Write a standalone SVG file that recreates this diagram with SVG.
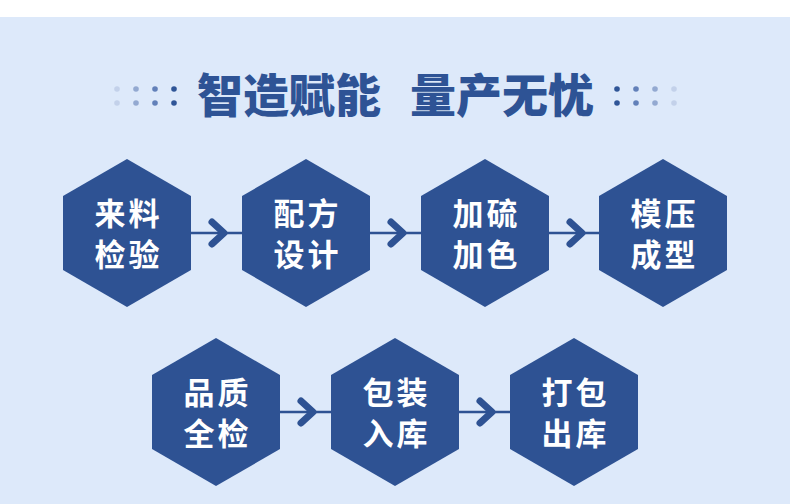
<svg xmlns="http://www.w3.org/2000/svg" width="790" height="504" viewBox="0 0 790 504">
  <style>
    .hex { fill: #2e5293; }
    .lbl { font-family: "Noto Sans CJK SC", "Noto Sans", sans-serif; font-weight: 700; font-size: 31px; fill: #ffffff; text-anchor: middle; letter-spacing: 3px; }
    .title { font-family: "Noto Sans CJK SC", "Noto Sans", sans-serif; font-weight: 900; font-size: 46px; fill: #2e5395; text-anchor: middle; }
    .line { stroke: #2e5293; stroke-width: 2.5; fill: none; }
    .chev { stroke: #2e5293; stroke-width: 7; fill: none; stroke-linecap: round; stroke-linejoin: round; }
  </style>
  <defs>
    <polygon id="hexshape" points="0,-74 64,-37 64,37 0,74 -64,37 -64,-37"/>
    <path id="chevron" d="M 0 -11 L 12 0 L 0 11"/>
  </defs>

  <rect x="0" y="0" width="790" height="504" fill="#ffffff"/>
  <rect x="0" y="17" width="790" height="487" fill="#dde9fa"/>

  <g id="title">
    <g id="dots-left">
      <circle cx="117" cy="89" r="2.8" fill="#c3d1ea"/>
      <circle cx="136" cy="89" r="2.8" fill="#93a9d1"/>
      <circle cx="155" cy="89" r="2.8" fill="#6280b9"/>
      <circle cx="174" cy="89" r="2.8" fill="#2f5597"/>
      <circle cx="117" cy="103" r="2.8" fill="#c3d1ea"/>
      <circle cx="136" cy="103" r="2.8" fill="#93a9d1"/>
      <circle cx="155" cy="103" r="2.8" fill="#6280b9"/>
      <circle cx="174" cy="103" r="2.8" fill="#2f5597"/>
    </g>
    <text class="title" x="289" y="112">智造赋能</text>
    <text class="title" x="502" y="112">量产无忧</text>
    <g id="dots-right">
      <circle cx="617" cy="89" r="2.8" fill="#2f5597"/>
      <circle cx="636" cy="89" r="2.8" fill="#6280b9"/>
      <circle cx="655" cy="89" r="2.8" fill="#93a9d1"/>
      <circle cx="674" cy="89" r="2.8" fill="#c3d1ea"/>
      <circle cx="617" cy="103" r="2.8" fill="#2f5597"/>
      <circle cx="636" cy="103" r="2.8" fill="#6280b9"/>
      <circle cx="655" cy="103" r="2.8" fill="#93a9d1"/>
      <circle cx="674" cy="103" r="2.8" fill="#c3d1ea"/>
    </g>
  </g>

  <g id="connectors">
    <line class="line" x1="190" y1="233" x2="244" y2="233"/>
    <use href="#chevron" class="chev" transform="translate(212,233)"/>
    <line class="line" x1="369" y1="233" x2="423" y2="233"/>
    <use href="#chevron" class="chev" transform="translate(391,233)"/>
    <line class="line" x1="548" y1="233" x2="601" y2="233"/>
    <use href="#chevron" class="chev" transform="translate(570,233)"/>
    <line class="line" x1="279" y1="412" x2="333" y2="412"/>
    <use href="#chevron" class="chev" transform="translate(301,412)"/>
    <line class="line" x1="458" y1="412" x2="512" y2="412"/>
    <use href="#chevron" class="chev" transform="translate(480,412)"/>
  </g>

  <g id="node-1" transform="translate(127,233)">
    <use href="#hexshape" class="hex"/>
    <text class="lbl" x="1.5" y="-8">来料</text>
    <text class="lbl" x="1.5" y="33">检验</text>
  </g>
  <g id="node-2" transform="translate(306,233)">
    <use href="#hexshape" class="hex"/>
    <text class="lbl" x="1.5" y="-8">配方</text>
    <text class="lbl" x="1.5" y="33">设计</text>
  </g>
  <g id="node-3" transform="translate(485,233)">
    <use href="#hexshape" class="hex"/>
    <text class="lbl" x="1.5" y="-8">加硫</text>
    <text class="lbl" x="1.5" y="33">加色</text>
  </g>
  <g id="node-4" transform="translate(663,233)">
    <use href="#hexshape" class="hex"/>
    <text class="lbl" x="1.5" y="-8">模压</text>
    <text class="lbl" x="1.5" y="33">成型</text>
  </g>
  <g id="node-5" transform="translate(216,412)">
    <use href="#hexshape" class="hex"/>
    <text class="lbl" x="1.5" y="-8">品质</text>
    <text class="lbl" x="1.5" y="33">全检</text>
  </g>
  <g id="node-6" transform="translate(395,412)">
    <use href="#hexshape" class="hex"/>
    <text class="lbl" x="1.5" y="-8">包装</text>
    <text class="lbl" x="1.5" y="33">入库</text>
  </g>
  <g id="node-7" transform="translate(574,412)">
    <use href="#hexshape" class="hex"/>
    <text class="lbl" x="1.5" y="-8">打包</text>
    <text class="lbl" x="1.5" y="33">出库</text>
  </g>
</svg>
